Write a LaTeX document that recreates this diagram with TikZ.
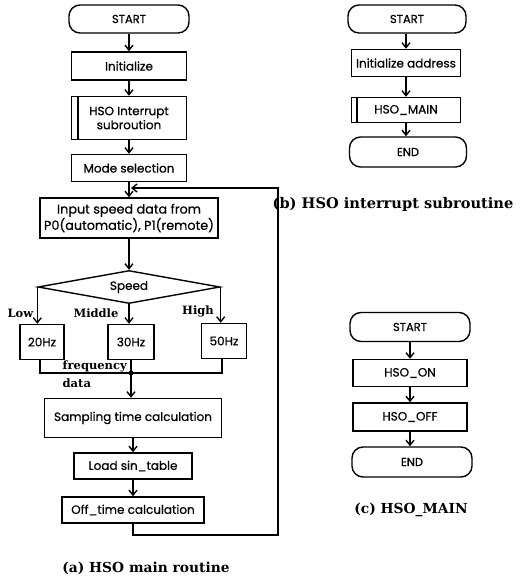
\documentclass[tikz,border=0pt]{standalone}
\usepackage{fontspec}
\newfontfamily\boxfont[FakeBold=0.6]{Poppins}
\newfontfamily\capfont{DejaVu Serif}
\usetikzlibrary{arrows.meta,shapes.geometric}

\begin{document}
\begin{tikzpicture}[x=1pt,y=-1pt,line width=1.4pt,
  box/.style={draw, rectangle, inner sep=1pt, align=center,
    font=\boxfont\fontsize{12}{14}\selectfont},
  term/.style={box, rounded corners=11pt, font=\boxfont\fontsize{11.5}{14}\selectfont},
  arr/.style={-{Straight Barb[length=5pt,width=8pt]}},
  lab/.style={inner sep=0pt, font=\capfont\bfseries\fontsize{11.5}{12}\selectfont},
  figcap/.style={inner sep=0pt, font=\capfont\bfseries\fontsize{13.8}{15}\selectfont}]

\fill[white] (0,0) rectangle (521,578);
\useasboundingbox (0,0) rectangle (521,578);

% ---------- (a) HSO main routine ----------
\node[term, minimum width=120pt, minimum height=28pt] (start) at (129,19) {START};
\node[box, minimum width=115pt, minimum height=28pt] (init) at (129,66) {Initialize};
\node[box, minimum width=115pt, minimum height=43pt] (hso) at (129,118) {HSO Interrupt\\subroution};
\draw ([xshift=7pt]hso.north west) -- ([xshift=7pt]hso.south west);
\node[box, minimum width=115pt, minimum height=27pt] (mode) at (129,168) {Mode selection};
\node[box, minimum width=178pt, minimum height=40pt, font=\boxfont\fontsize{12.8}{15}\selectfont]
  (input) at (129,218) {Input speed data from\\P0(automatic), P1(remote)};
\node[draw, diamond, aspect=6, inner sep=0pt, minimum width=182pt, minimum height=33pt,
  font=\boxfont\fontsize{12}{14}\selectfont] (spd) at (129,287) {Speed};
\node[box, minimum width=44pt, minimum height=35pt] (f20) at (42,342) {20Hz};
\node[box, minimum width=46pt, minimum height=35pt] (f30) at (131,342) {30Hz};
\node[box, minimum width=45pt, minimum height=35pt] (f50) at (224,341) {50Hz};
\node[box, minimum width=177pt, minimum height=39pt] (samp) at (133,418) {Sampling time calculation};
\node[box, minimum width=118pt, minimum height=26pt] (load) at (133,466) {Load sin\_table};
\node[box, minimum width=142pt, minimum height=26pt] (off) at (133,510) {Off\_time calculation};

\draw[arr] (start) -- (init);
\draw[arr] (init) -- (hso);
\draw[arr] (hso) -- (mode);
\draw[arr] (mode) -- (input);
\draw[arr] (input) -- (spd);

% speed branches
\draw[arr] (spd.west) -- (spd.west |- f20.north);
\draw[arr] (spd.south) -- (spd.south |- f30.north);
\draw[arr] (spd.east) -- (spd.east |- f50.north);
\node[lab, anchor=east] at (34,313) {Low};
\node[lab] at (96,313) {Middle};
\node[lab] at (198,311) {High};

% frequency data merge
\coordinate (jl) at (40,373);
\coordinate (jr) at (222,373);
\coordinate (j) at (131,373);
\draw (f20.south -| jl) -- (jl) -- (jr) -- (f50.south -| jr);
\draw (f30.south) -- (j);
\fill (j) circle (2.5pt);
\node[lab, anchor=west] at (62,366) {frequency};
\node[lab, anchor=west] at (62,383) {data};
\draw[arr] (j) -- (j |- samp.north);

\draw[arr] (samp) -- (load);
\draw[arr] (load) -- (off);

% return loop
\coordinate (lpA) at (278,535);
\coordinate (lpB) at (278,188);
\coordinate (lpE) at (131,188);
\draw[arr] (off.south) -- (off.south |- lpA) -- (lpA) -- (lpB) -- (lpE);

\node[figcap] at (146,568) {(a) HSO main routine};

% ---------- (b) HSO interrupt subroutine ----------
\node[term, minimum width=118pt, minimum height=28pt] (bstart) at (407,19) {START};
\node[box, minimum width=109pt, minimum height=27pt] (binit) at (406,63) {Initialize address};
\node[box, minimum width=109pt, minimum height=25pt] (bmain) at (406,110) {HSO\_MAIN};
\draw ([xshift=6pt]bmain.north west) -- ([xshift=6pt]bmain.south west);
\node[term, minimum width=117pt, minimum height=30pt] (bend) at (408,152) {END};
\draw[arr] (binit.north |- bstart.south) -- (binit.north);
\draw[arr] (binit) -- (bmain);
\draw[arr] (bmain.south) -- (bmain.south |- bend.north);
\node[figcap, font=\capfont\bfseries\fontsize{14.6}{16}\selectfont] at (393,204) {(b) HSO interrupt subroutine};

% ---------- (c) HSO_MAIN ----------
\node[term, minimum width=120pt, minimum height=29pt] (cstart) at (410,327) {START};
\node[box, minimum width=114pt, minimum height=27pt] (con) at (410,373) {HSO\_ON};
\node[box, minimum width=114pt, minimum height=28pt] (coff) at (410,417) {HSO\_OFF};
\node[term, minimum width=120pt, minimum height=30pt] (cend) at (412,462) {END};
\draw[arr] (cstart.south -| con.north) -- (con.north);
\draw[arr] (con) -- (coff);
\draw[arr] (coff.south) -- (coff.south |- cend.north);
\node[figcap] at (411,510) {(c) HSO\_MAIN};

\end{tikzpicture}
\end{document}
